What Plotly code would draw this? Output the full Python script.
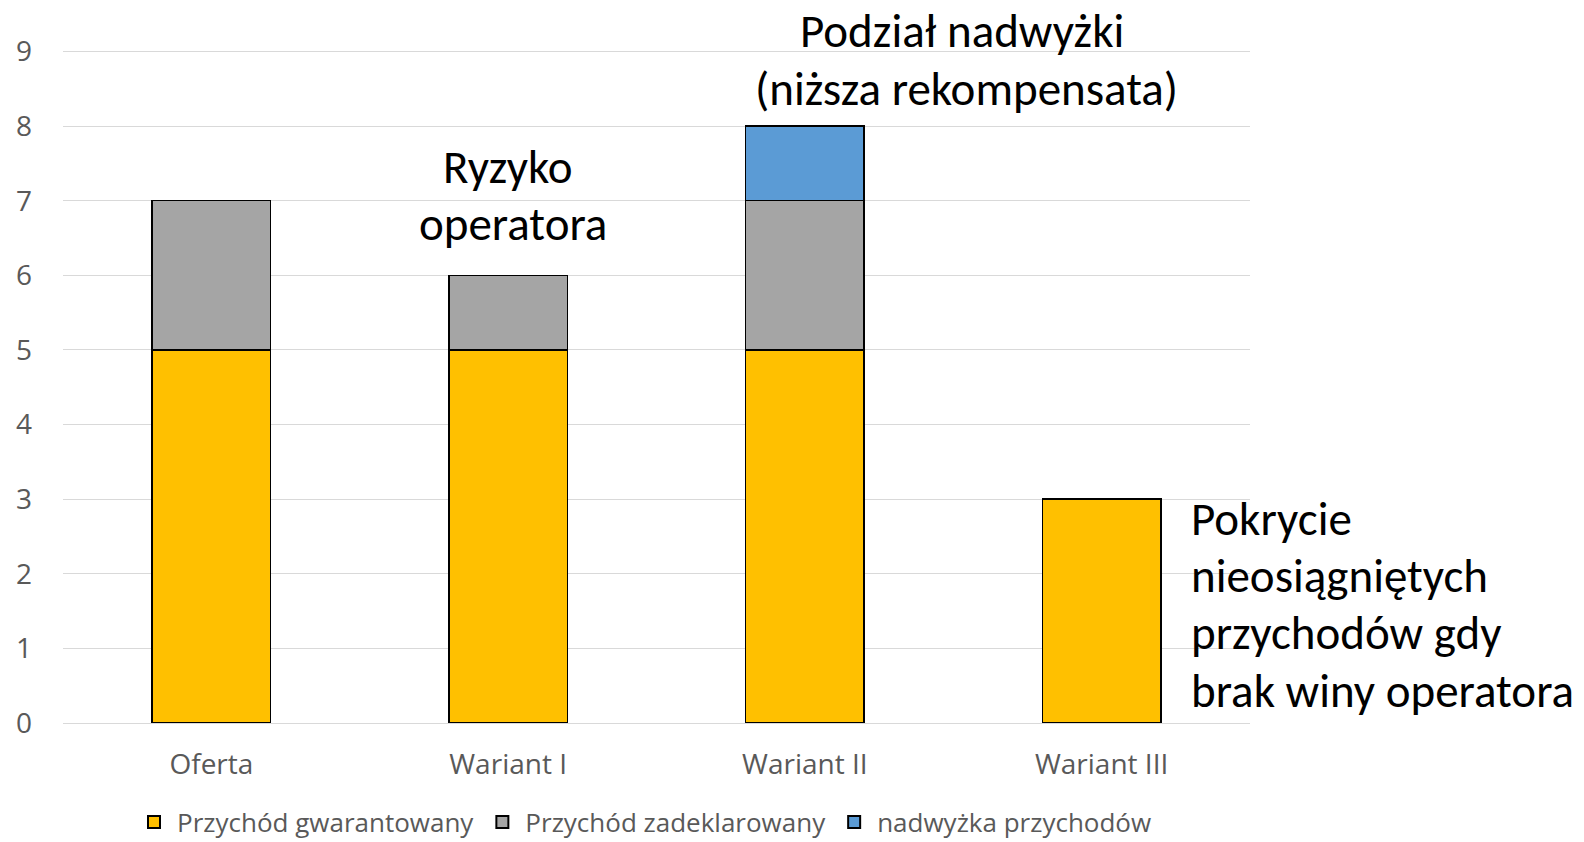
import plotly.graph_objects as go

categories = ["Oferta", "Wariant I", "Wariant II", "Wariant III"]
guaranteed = [5, 5, 5, 3]
declared = [2, 1, 2, 0]
surplus = [0, 0, 1, 0]

series_names = ["Przychód gwarantowany", "Przychód zadeklarowany", "nadwyżka przychodów"]
series_colors = ["#FFC000", "#A5A5A5", "#5B9BD5"]
y_ticks = list(range(0, 10))

W, H = 1584, 842
L, R, T, B = 63, 334, 50, 119
plot_w = W - L - R
plot_h = H - T - B

def px(x):
    return (x - L) / plot_w

def py(y):
    return (H - B - y) / plot_h

fig = go.Figure()
for name, vals, col in zip(series_names, [guaranteed, declared, surplus], series_colors):
    fig.add_trace(go.Bar(
        x=categories, y=vals, name=name,
        marker=dict(color=col, line=dict(color="#000000", width=1.5)),
    ))

text_font = dict(family="Carlito, Lato, sans-serif", size=47, color="#000000")
notes = [
    ("Podział nadwyżki", 962, 31, "center"),
    ("(niższa rekompensata)", 966, 89, "center"),
    ("Ryzyko", 508, 167, "center"),
    ("operatora", 513, 224, "center"),
    ("Pokrycie", 1189, 519, "left"),
    ("nieosiągniętych", 1189, 576, "left"),
    ("przychodów gdy", 1189, 633, "left"),
    ("brak winy operatora", 1189, 691, "left"),
]
for txt, x, y, anchor in notes:
    fig.add_annotation(
        text=txt, x=px(x), y=py(y), xref="paper", yref="paper",
        xanchor=anchor, yanchor="middle", showarrow=False, font=text_font,
    )

fig.update_layout(
    width=W, height=H,
    margin=dict(l=L, r=R, t=T, b=B, autoexpand=False),
    barmode="stack", bargap=0.6,
    plot_bgcolor="#FFFFFF", paper_bgcolor="#FFFFFF",
    font=dict(family="Open Sans, sans-serif", size=28, color="#595959"),
    showlegend=True,
    legend=dict(
        orientation="h", x=644 / W, xanchor="center",
        y=1 - 822 / H, yanchor="middle", xref="container", yref="container",
        font=dict(size=26, color="#595959"), traceorder="normal",
        itemsizing="constant", itemwidth=36,
    ),
    xaxis=dict(showline=False, ticks="", tickfont=dict(size=28, color="#595959"),
               ticklabelstandoff=22),
    yaxis=dict(
        range=[0, 9.02], tickvals=y_ticks, showgrid=True, gridcolor="#D9D9D9",
        gridwidth=1.3, zeroline=True, zerolinecolor="#D9D9D9", zerolinewidth=1.3,
        tickfont=dict(size=28, color="#595959"), ticks="", ticklen=0,
        ticklabelstandoff=30,
    ),
)

fig.write_html("out.html")
